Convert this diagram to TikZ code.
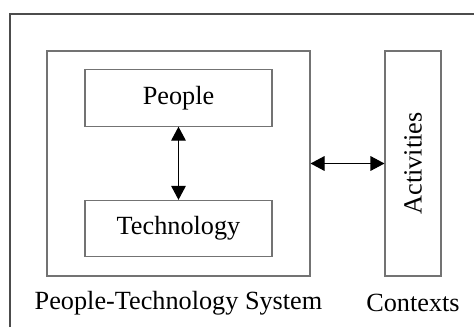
\documentclass[tikz,border=0pt]{standalone}
\usepackage{fontspec}
\setmainfont{Liberation Serif}
\usetikzlibrary{arrows.meta,positioning}

\begin{document}
\begin{tikzpicture}[x=0.03cm, y=-0.03cm, <->, >={Triangle[length=0.42cm,width=0.44cm]},
  line width=0.9pt, font=\fontsize{22.4}{27}\selectfont]
\tikzset{box/.style={draw=black!55, line width=0.9pt, inner sep=0pt},
         caption/.style={inner sep=0pt}}

\useasboundingbox (0,0) rectangle (474,327);
\draw[-, black!70] (10,327) |- (474,14);

\node[box, minimum width=7.89cm, minimum height=6.75cm] (sys) at (178.5,163.5) {};
\node[box, minimum width=5.61cm, minimum height=1.69cm] (people) at (178.5,98) {People};
\node[box, minimum width=5.61cm, minimum height=1.69cm] (tech) [below of = people, node distance=3.915cm] {Technology};
\node[box, minimum width=1.68cm, minimum height=6.75cm] (acts) [right of = sys, node distance=7.035cm] {\rotatebox{90}{Activities}};

\node[caption] (ptslabel) at (178.5,303) {People-Technology System};
\node[caption] (ctxlabel) at (413,303) {Contexts};

\path (people) edge (tech)
      (sys) edge (acts);

\end{tikzpicture}
\end{document}
